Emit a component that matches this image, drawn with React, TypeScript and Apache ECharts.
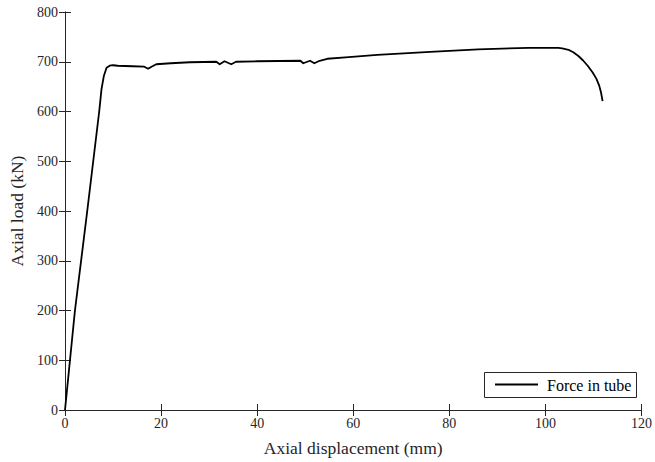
import React, { useEffect, useRef } from "react";
import * as echarts from "echarts";

const displacement = [
  0, 2.07, 4.63, 7.12, 7.6, 8.1, 8.65, 9.3, 10, 11, 14, 16.5, 17.3, 18, 19, 22, 26,
  31.5, 32.2, 33.2, 34.6, 35.6, 40, 49, 49.6, 51, 51.9, 53, 54.6, 58.4, 65, 76, 86,
  96.5, 102.7, 103.5, 104.8, 105.8, 106.8, 107.8, 108.8, 109.8, 110.6, 111.2, 111.6, 111.9,
];
const load = [
  0, 200, 400, 600, 645, 672, 688, 692, 693, 692, 691, 690, 686, 690, 695, 697, 699,
  700, 695, 701, 695, 700, 701, 702, 697, 702, 697, 702, 706, 709, 714, 720, 725,
  728, 728, 727, 724, 719, 712, 703, 692, 679, 666, 652, 637, 621,
];
const legendLabel = "Force in tube";
const xTitle = "Axial displacement (mm)";
const yTitle = "Axial load (kN)";

const FONT = "Liberation Serif";
const AX = "#262626";

export default function App() {
  const ref = useRef<HTMLDivElement>(null);
  useEffect(() => {
    if (!ref.current) return;
    const chart = echarts.init(ref.current, undefined, { renderer: "svg" });
    const data = displacement.map((d, i) => [d, load[i]]);
    const axisCommon = {
      type: "value" as const,
      splitLine: { show: false },
      axisLine: { show: true, lineStyle: { color: AX, width: 1 } },
      axisTick: { show: true, inside: true, length: 6, lineStyle: { color: AX } },
    };
    chart.setOption({
      animation: false,
      backgroundColor: "#ffffff",
      textStyle: { fontFamily: FONT },
      grid: { left: 65, right: 12, top: 12, bottom: 52 },
      xAxis: [
        {
          ...axisCommon,
          position: "bottom",
          min: 0,
          max: 120,
          interval: 20,
          axisLabel: { color: AX, fontFamily: FONT, fontSize: 14, margin: 6 },
          name: xTitle,
          nameLocation: "middle",
          nameGap: 29,
          nameTextStyle: { color: AX, fontFamily: FONT, fontSize: 17.5 },
        },
        {
          ...axisCommon,
          position: "top",
          min: 0,
          max: 120,
          interval: 20,
          axisLabel: { show: false },
        },
      ],
      yAxis: [
        {
          ...axisCommon,
          position: "left",
          min: 0,
          max: 800,
          interval: 100,
          axisLabel: { color: AX, fontFamily: FONT, fontSize: 14, margin: 7 },
          name: yTitle,
          nameLocation: "middle",
          nameGap: 36,
          nameTextStyle: { color: AX, fontFamily: FONT, fontSize: 17.5 },
        },
        {
          ...axisCommon,
          position: "right",
          min: 0,
          max: 800,
          interval: 100,
          axisLabel: { show: false },
        },
      ],
      series: [
        {
          type: "line",
          name: legendLabel,
          data,
          xAxisIndex: 0,
          yAxisIndex: 0,
          showSymbol: false,
          symbol: "none",
          lineStyle: { color: "#000000", width: 1.8, join: "round" },
        },
      ],
      graphic: [
        {
          type: "rect",
          shape: { x: 484.5, y: 372.5, width: 152, height: 25 },
          style: { fill: "#ffffff", stroke: AX, lineWidth: 1 },
          z: 100,
        },
        {
          type: "line",
          shape: { x1: 495, y1: 384.5, x2: 538, y2: 384.5 },
          style: { stroke: "#000000", lineWidth: 1.8 },
          z: 101,
        },
        {
          type: "text",
          x: 547,
          y: 385,
          style: {
            text: legendLabel,
            fill: "#000000",
            fontFamily: FONT,
            fontSize: 16,
            verticalAlign: "middle",
            align: "left",
          },
          z: 101,
        },
      ],
    });
    return () => chart.dispose();
  }, []);
  return (
    <div
      ref={ref}
      style={{ position: "fixed", left: 0, top: 0, width: 655, height: 462 }}
    />
  );
}
